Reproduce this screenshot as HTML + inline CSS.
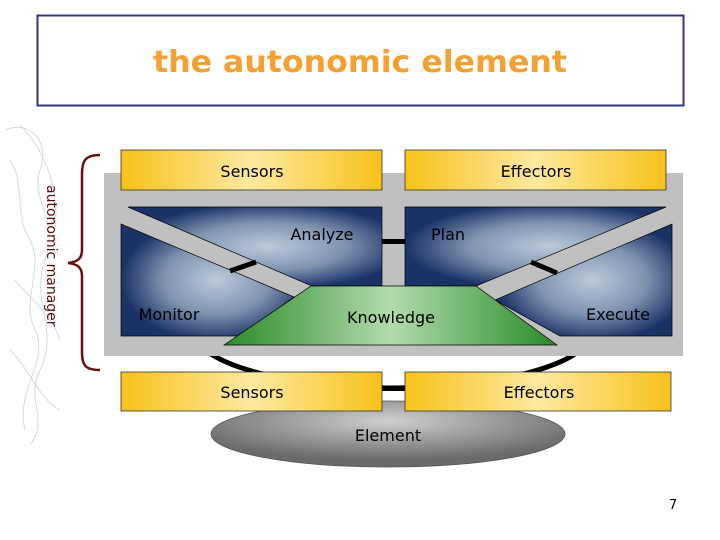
<!DOCTYPE html>
<html><head><meta charset="utf-8"><style>
html,body{margin:0;padding:0;background:#fff;}
svg{display:block;}
text{font-family:"DejaVu Sans","Liberation Sans",sans-serif;}
</style></head><body>
<svg width="720" height="540" viewBox="0 0 720 540" xmlns="http://www.w3.org/2000/svg">
<defs>
<linearGradient id="yel" x1="0" y1="0" x2="1" y2="0">
<stop offset="0" stop-color="#f7c21a"/><stop offset="0.5" stop-color="#fde9a0"/><stop offset="1" stop-color="#f7c21a"/>
</linearGradient>
<radialGradient id="blu" cx="0.55" cy="0.5" r="0.55">
<stop offset="0" stop-color="#bccbdb"/><stop offset="0.55" stop-color="#7f93b0"/><stop offset="1" stop-color="#1b3266"/>
</radialGradient>
<linearGradient id="grn" x1="0" y1="0" x2="1" y2="0">
<stop offset="0" stop-color="#2a8a2a"/><stop offset="0.5" stop-color="#b2dcac"/><stop offset="1" stop-color="#2a8a2a"/>
</linearGradient>
<radialGradient id="gry" cx="0.5" cy="0.3" r="0.6">
<stop offset="0" stop-color="#cfcfcf"/><stop offset="1" stop-color="#6a6a6a"/>
</radialGradient>
</defs>
<rect x="37.5" y="15.5" width="646" height="90" fill="#fff" stroke="#34347f" stroke-width="2"/>
<text x="360" y="72" text-anchor="middle" font-size="30" font-weight="bold" fill="#f5a033" textLength="414" lengthAdjust="spacingAndGlyphs">the autonomic element</text>

<g fill="none" stroke="#c8d0e0" stroke-width="1" opacity="0.8">
<path d="M5 130 C30 120 50 140 40 170 C30 200 60 220 45 260 C30 300 60 330 40 370 C25 400 50 420 30 445"/>
<path d="M10 160 C25 180 15 220 30 240 C45 270 20 300 35 330 C50 360 15 390 25 430"/>
<path d="M20 125 C45 150 60 190 55 230 M15 280 C30 300 50 310 60 340 M10 350 C30 370 40 400 60 410"/>
</g>

<path d="M100 155 C84 155 82 162 82 175 L82 250 C82 258 78 262 68 263 C78 264 82 268 82 276 L82 352 C82 364 84 370 100 370" fill="none" stroke="#6b0f0f" stroke-width="2.5"/>
<text transform="translate(47,185) rotate(90)" font-size="14" fill="#5a0d0d">autonomic manager</text>

<ellipse cx="393" cy="330" rx="200" ry="58" fill="none" stroke="#000" stroke-width="5"/>
<rect x="104" y="173" width="579" height="183" fill="#c0c0c0"/>
<rect x="380" y="239" width="28" height="5" fill="#000"/>
<rect x="380" y="386" width="28" height="5" fill="#000"/>

<polygon points="128,207 382,207 382,286 312,286" fill="url(#blu)" stroke="#000" stroke-width="0.7"/>
<polygon points="121,224 294,297 240,336 121,336" fill="url(#blu)" stroke="#000" stroke-width="0.7"/>
<polygon points="405,207 666,207 476,286 405,286" fill="url(#blu)" stroke="#000" stroke-width="0.7"/>
<polygon points="672,224 672,336 560,336 495,300" fill="url(#blu)" stroke="#000" stroke-width="0.7"/>
<line x1="230" y1="271" x2="256" y2="262" stroke="#000" stroke-width="5"/>
<line x1="531" y1="262" x2="557" y2="273" stroke="#000" stroke-width="5"/>
<polygon points="311,286 476,286 557,345 224,345" fill="url(#grn)" stroke="#000" stroke-width="0.7"/>

<rect x="121" y="150" width="261" height="40" fill="url(#yel)" stroke="#333" stroke-width="0.8"/>
<rect x="405" y="150" width="261" height="40" fill="url(#yel)" stroke="#333" stroke-width="0.8"/>
<ellipse cx="388" cy="434" rx="177" ry="33" fill="url(#gry)" stroke="#555" stroke-width="0.8"/>
<rect x="121" y="372" width="261" height="39" fill="url(#yel)" stroke="#333" stroke-width="0.8"/>
<rect x="405" y="372" width="266" height="39" fill="url(#yel)" stroke="#333" stroke-width="0.8"/>

<g font-size="16" fill="#000">
<text x="252" y="177" text-anchor="middle">Sensors</text>
<text x="536" y="177" text-anchor="middle">Effectors</text>
<text x="322" y="240" text-anchor="middle">Analyze</text>
<text x="448" y="240" text-anchor="middle">Plan</text>
<text x="169" y="320" text-anchor="middle">Monitor</text>
<text x="618" y="320" text-anchor="middle">Execute</text>
<text x="391" y="323" text-anchor="middle">Knowledge</text>
<text x="252" y="398" text-anchor="middle">Sensors</text>
<text x="539" y="398" text-anchor="middle">Effectors</text>
<text x="388" y="441" text-anchor="middle">Element</text>
</g>
<text x="673" y="509" text-anchor="middle" font-size="13" fill="#000">7</text>
</svg>
</body></html>
